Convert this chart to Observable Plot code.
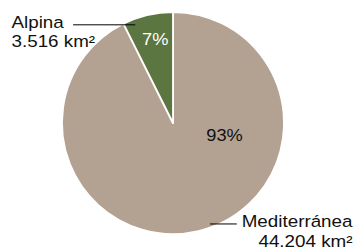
<!DOCTYPE html>
<html>
<head>
<meta charset="utf-8">
<script src="https://cdn.jsdelivr.net/npm/d3@7"></script>
<script src="https://cdn.jsdelivr.net/npm/@observablehq/plot@0.6"></script>
<style>
  html, body { margin: 0; padding: 0; background: #fff; }
</style>
</head>
<body>
<div id="chart"></div>
<script>
// ---- data ----
const categories = ["Mediterránea", "Alpina"];
const areas = [44204, 3516];            // km²
const percentLabels = ["93%", "7%"];
const areaLabels = ["44.204 km²", "3.516 km²"];

const table = categories.map((c, i) => ({
  category: c,
  area: areas[i],
  pct: percentLabels[i],
  label: `${c}\n${areaLabels[i]}`
}));

const color = Plot.scale({color: {domain: categories, range: ["#b3a192", "#5b7641"]}});
const arcs = d3.pie().sort(null).value(d => d.area)(table);

function pieSlices(index, scales) {
  const cx = scales.x(0), cy = scales.y(0), r = scales.x(1) - scales.x(0);
  const arc = d3.arc().innerRadius(0).outerRadius(r);
  const g = d3.create("svg:g").attr("transform", `translate(${cx},${cy})`);
  g.selectAll("path").data(arcs).join("path")
    .attr("d", arc)
    .attr("fill", d => color.apply(d.data.category))
    .attr("stroke", "white")
    .attr("stroke-width", 1.8)
    .attr("stroke-linejoin", "round");
  return g.node();
}

const pctPos = {"Mediterránea": [0.46, -0.11], "Alpina": [-0.165, 0.75]};
const font = "'Liberation Sans', Arial, Helvetica, sans-serif";

const chart = Plot.plot({
  width: 354,
  height: 250,
  marginLeft: 62,
  marginRight: 70,
  marginTop: 12,
  marginBottom: 16,
  style: {fontFamily: font, background: "white"},
  x: {domain: [-1, 1], axis: null},
  y: {domain: [-1, 1], axis: null},
  marks: [
    pieSlices,
    Plot.text(table.filter(d => d.category === "Alpina"), {
      x: d => pctPos[d.category][0], y: d => pctPos[d.category][1],
      text: "pct", fill: "white", fontSize: 16, fontFamily: font
    }),
    Plot.text(table.filter(d => d.category === "Mediterránea"), {
      x: d => pctPos[d.category][0], y: d => pctPos[d.category][1],
      text: "pct", fill: "#111", fontSize: 16, fontFamily: font
    }),
    // leader lines
    Plot.ruleY([0.889], {x1: -0.90, x2: -0.34, stroke: "black", strokeWidth: 1}),
    Plot.ruleY([-0.905], {x1: 0.333, x2: 0.575, stroke: "black", strokeWidth: 1}),
    // category labels
    Plot.text(table.filter(d => d.category === "Alpina"), {
      frameAnchor: "top-left", dx: -51, dy: 1, text: "label",
      textAnchor: "start", lineAnchor: "top", lineHeight: 1.2,
      fill: "#111", fontSize: 16.5, fontFamily: font
    }),
    Plot.text(table.filter(d => d.category === "Mediterránea"), {
      frameAnchor: "bottom-right", dx: 68, dy: 12, text: "label",
      textAnchor: "end", lineAnchor: "bottom", lineHeight: 1.2,
      fill: "#111", fontSize: 16.5, fontFamily: font
    })
  ]
});

// widen glyphs slightly to match the reference's wide sans face
chart.querySelectorAll("text").forEach(t => {
  const tr = t.getAttribute("transform");
  if (tr) t.setAttribute("transform", tr + " scale(1.14,1)");
  else {
    const x = +t.getAttribute("x") || 0, y = +t.getAttribute("y") || 0;
    t.setAttribute("transform", `translate(${x},${y}) scale(1.14,1) translate(${-x},${-y})`);
  }
});

document.getElementById("chart").appendChild(chart);
</script>
</body>
</html>
